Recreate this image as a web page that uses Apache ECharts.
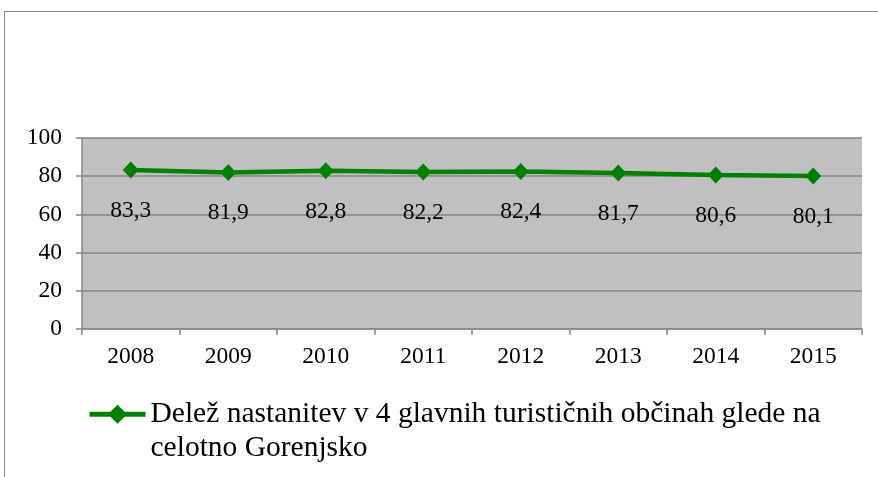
<!DOCTYPE html>
<html>
<head>
<meta charset="utf-8">
<script src="https://cdn.jsdelivr.net/npm/echarts@6/dist/echarts.min.js"></script>
<style>
  html, body { margin: 0; padding: 0; background: #fff; }
  #chart { width: 878px; height: 477px; }
</style>
</head>
<body>
<div id="chart"></div>
<script>
var years = ['2008', '2009', '2010', '2011', '2012', '2013', '2014', '2015'];
var shares = [83.3, 81.9, 82.8, 82.2, 82.4, 81.7, 80.6, 80.1];
var yTicks = [0, 20, 40, 60, 80, 100];
var seriesName = 'Delež nastanitev v 4 glavnih turističnih občinah glede na celotno Gorenjsko';

var font = 'Liberation Serif';
var gray = '#868686';

var myChart = echarts.init(document.getElementById('chart'));

var option = {
  backgroundColor: '#fff',
  animation: false,
  graphic: [{
    type: 'rect',
    shape: { x: 4.5, y: 11.5, width: 1000, height: 1000 },
    style: { fill: 'none', stroke: gray, lineWidth: 1 },
    silent: true
  }],
  grid: {
    left: 82,
    right: 16,
    top: 138,
    bottom: 148,
    show: true,
    backgroundColor: '#c0c0c0',
    borderWidth: 0
  },
  legend: {
    left: 82,
    top: 359,
    itemWidth: 56,
    itemHeight: 24,
    data: [seriesName],
    lineStyle: { width: 5 },
    formatter: function (name) {
      // blank first line keeps the symbol level with the first text line
      return '\n' + name.replace(' celotno', '\ncelotno');
    },
    textStyle: {
      fontFamily: font,
      fontSize: 29.5,
      lineHeight: 33.5,
      color: '#000'
    }
  },
  xAxis: {
    type: 'category',
    data: years,
    boundaryGap: true,
    axisLine: { lineStyle: { color: gray, width: 1.5 } },
    axisTick: { show: true, length: 6, lineStyle: { color: gray, width: 1.5 } },
    axisLabel: { fontFamily: font, fontSize: 23.5, color: '#000', margin: 16 },
    splitLine: { show: false }
  },
  yAxis: {
    type: 'value',
    min: yTicks[0],
    max: yTicks[yTicks.length - 1],
    interval: yTicks[1] - yTicks[0],
    axisLine: { show: true, lineStyle: { color: gray, width: 1.5 } },
    axisTick: { show: true, length: 6, lineStyle: { color: gray, width: 1.5 } },
    axisLabel: { fontFamily: font, fontSize: 23.5, color: '#000', margin: 20 },
    splitLine: { show: true, lineStyle: { color: gray, width: 1.5 } }
  },
  series: [{
    name: seriesName,
    type: 'line',
    data: shares,
    symbol: 'diamond',
    symbolSize: [16, 17],
    lineStyle: { color: '#008000', width: 4.5 },
    itemStyle: { color: '#008000' },
    label: {
      show: true,
      position: 'bottom',
      distance: 20,
      fontFamily: font,
      fontSize: 23.5,
      color: '#000',
      formatter: function (p) {
        return String(p.value).replace('.', ',');
      }
    }
  }]
};
myChart.setOption(option);
</script>
</body>
</html>
